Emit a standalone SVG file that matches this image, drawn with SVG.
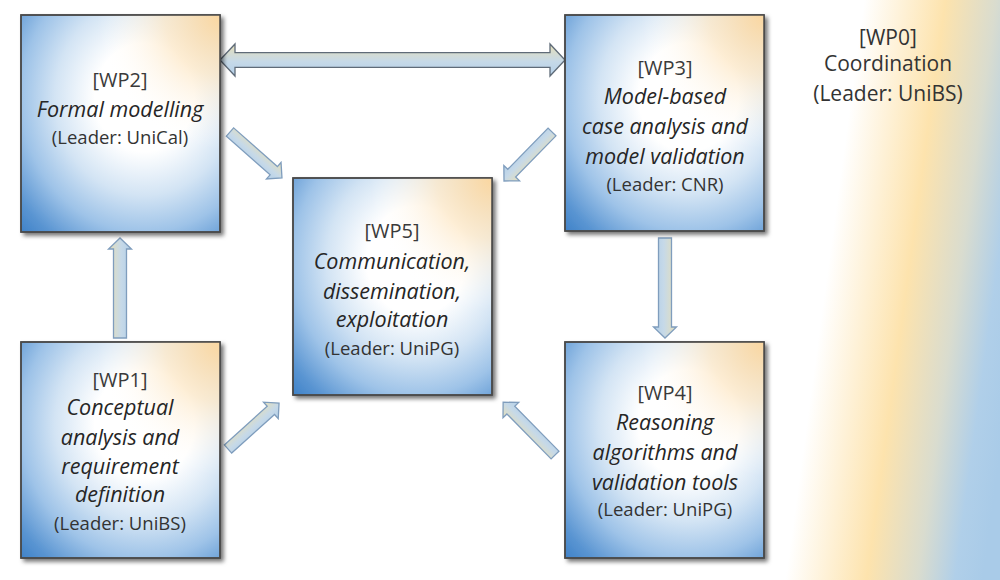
<svg xmlns="http://www.w3.org/2000/svg" width="1000" height="580" viewBox="0 0 1000 580">
<defs>
<linearGradient id="bg" gradientUnits="userSpaceOnUse" x1="790" y1="290" x2="1018" y2="321">
<stop offset="0" stop-color="#ffffff"/>
<stop offset="0.15" stop-color="#ffffff"/>
<stop offset="0.5" stop-color="#fde3ad"/>
<stop offset="0.72" stop-color="#d9dccf"/>
<stop offset="0.88" stop-color="#b0cfe9"/>
<stop offset="1" stop-color="#a9cbe8"/>
</linearGradient>
<radialGradient id="box" cx="0.62" cy="0.38" r="1" fx="0.62" fy="0.38">
<stop offset="0" stop-color="#ffffff"/>
<stop offset="0.25" stop-color="#ffffff"/>
<stop offset="0.45" stop-color="#d3e4f4"/>
<stop offset="0.62" stop-color="#9ec3e8"/>
<stop offset="0.78" stop-color="#5a95d2"/>
<stop offset="0.92" stop-color="#3379c3"/>
<stop offset="1" stop-color="#2e74c0"/>
</radialGradient>
<radialGradient id="warm" cx="1" cy="0" r="0.62">
<stop offset="0" stop-color="#fbd7a0" stop-opacity="1"/>
<stop offset="0.45" stop-color="#fde6c2" stop-opacity="0.7"/>
<stop offset="1" stop-color="#ffffff" stop-opacity="0"/>
</radialGradient>
<linearGradient id="arr" x1="0" y1="0" x2="0" y2="1">
<stop offset="0" stop-color="#e6dfb8"/>
<stop offset="0.55" stop-color="#c6d9e8"/>
<stop offset="1" stop-color="#b3cfe8"/>
</linearGradient>
<filter id="sh" x="-10%" y="-10%" width="125%" height="125%">
<feDropShadow dx="3" dy="3" stdDeviation="2.2" flood-color="#000" flood-opacity="0.55"/>
</filter>
<style>
.bx{fill:url(#box);stroke:#4a4a4a;stroke-width:1.5;filter:url(#sh)}
.wm{fill:url(#warm);stroke:#4a4a4a;stroke-width:1.5}
.ar{fill:url(#arr);stroke:#7f9dbd;stroke-width:1.3}
.ar2{fill:url(#arr);stroke:#5f6b78;stroke-width:1.3}
text{font-family:"Open Sans","Liberation Sans",sans-serif;text-anchor:middle;fill:#262626}
.t{font-size:20px;fill:#3a3a3a}
.i{font-size:21.5px;font-style:italic}
.l{font-size:18.5px;fill:#333}
.c{font-size:21px;fill:#333}
</style>
</defs>
<rect x="0" y="0" width="1000" height="580" fill="url(#bg)"/>

<g id="connectors">
<path class="ar2" d="M220,60 L235,44 L235,52.7 L550,52.7 L550,44 L565,60 L550,76 L550,67.3 L235,67.3 L235,76 Z"/>
<g transform="translate(230,132) rotate(41.5)"><path class="ar" d="M0,-5.5 L58.4,-5.5 L58.4,-11 L69.4,0 L58.4,11 L58.4,5.5 L0,5.5 Z"/></g>
<g transform="translate(552,132) rotate(134.4)"><path class="ar" d="M0,-5.5 L57.6,-5.5 L57.6,-11 L68.6,0 L57.6,11 L57.6,5.5 L0,5.5 Z"/></g>
<g transform="translate(228,449) rotate(-42)"><path class="ar" d="M0,-5.5 L57.7,-5.5 L57.7,-11 L68.7,0 L57.7,11 L57.7,5.5 L0,5.5 Z"/></g>
<g transform="translate(555,455) rotate(-134.5)"><path class="ar" d="M0,-5.5 L63,-5.5 L63,-11 L74,0 L63,11 L63,5.5 L0,5.5 Z"/></g>
<g transform="translate(120,338) rotate(-90)"><path class="ar" d="M0,-6.5 L89,-6.5 L89,-11.5 L100,0 L89,11.5 L89,6.5 L0,6.5 Z"/></g>
<g transform="translate(665,238) rotate(90)"><path class="ar" d="M0,-6.5 L89,-6.5 L89,-11.5 L100,0 L89,11.5 L89,6.5 L0,6.5 Z"/></g>
</g>

<g id="wp2">
<rect class="bx" x="21" y="15" width="199" height="217"/>
<rect class="wm" x="21" y="15" width="199" height="217"/>
<text class="t" x="120" y="87">[WP2]</text>
<text class="i" x="120" y="117">Formal modelling</text>
<text class="l" x="120" y="144">(Leader: UniCal)</text>
</g>

<g id="wp3">
<rect class="bx" x="565" y="15" width="199" height="216"/>
<rect class="wm" x="565" y="15" width="199" height="216"/>
<text class="t" x="665" y="75">[WP3]</text>
<text class="i" x="665" y="104">Model-based</text>
<text class="i" x="665" y="134">case analysis and</text>
<text class="i" x="665" y="164">model validation</text>
<text class="l" x="665" y="191">(Leader: CNR)</text>
</g>

<g id="wp5">
<rect class="bx" x="293" y="178" width="199" height="217"/>
<rect class="wm" x="293" y="178" width="199" height="217"/>
<text class="t" x="392" y="238">[WP5]</text>
<text class="i" x="392" y="269">Communication,</text>
<text class="i" x="392" y="299">dissemination,</text>
<text class="i" x="392" y="327">exploitation</text>
<text class="l" x="392" y="355">(Leader: UniPG)</text>
</g>

<g id="wp1">
<rect class="bx" x="21" y="342" width="199" height="216"/>
<rect class="wm" x="21" y="342" width="199" height="216"/>
<text class="t" x="120" y="387">[WP1]</text>
<text class="i" x="120" y="415">Conceptual</text>
<text class="i" x="120" y="445">analysis and</text>
<text class="i" x="120" y="474">requirement</text>
<text class="i" x="120" y="502">definition</text>
<text class="l" x="120" y="530">(Leader: UniBS)</text>
</g>

<g id="wp4">
<rect class="bx" x="565" y="342" width="199" height="216"/>
<rect class="wm" x="565" y="342" width="199" height="216"/>
<text class="t" x="665" y="400">[WP4]</text>
<text class="i" x="665" y="430">Reasoning</text>
<text class="i" x="665" y="460">algorithms and</text>
<text class="i" x="665" y="490">validation tools</text>
<text class="l" x="665" y="516">(Leader: UniPG)</text>
</g>

<g id="wp0">
<text class="c" x="888" y="45">[WP0]</text>
<text class="c" x="888" y="71">Coordination</text>
<text class="c" x="888" y="101">(Leader: UniBS)</text>
</g>
</svg>
